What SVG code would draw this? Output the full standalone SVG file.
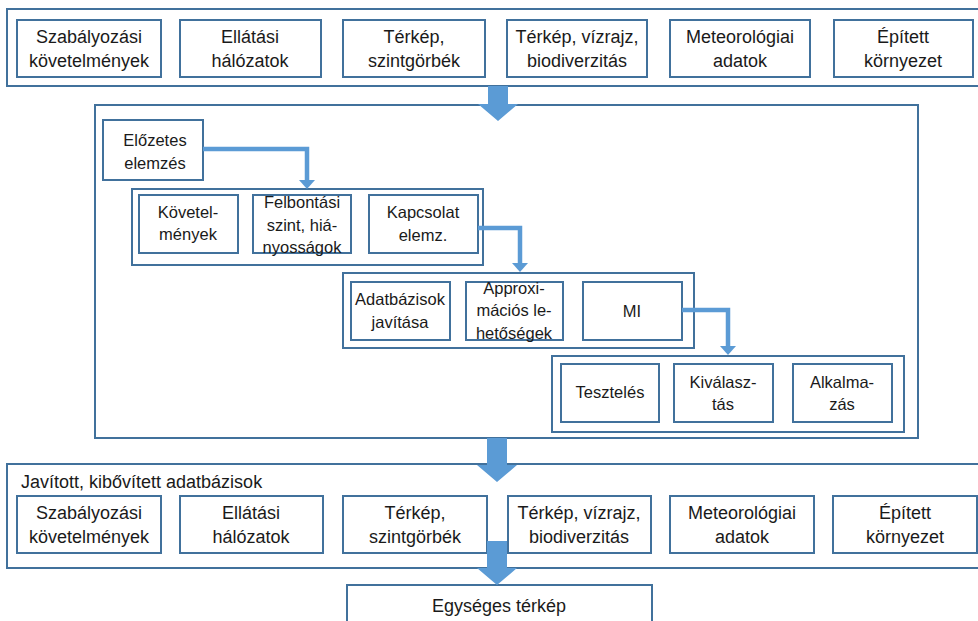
<svg xmlns="http://www.w3.org/2000/svg" width="978" height="621" viewBox="0 0 978 621">
<style>
.box{fill:#fff;stroke:#41719c;stroke-width:2}
.grp{fill:none;stroke:#41719c;stroke-width:2}
.t{font-family:"Liberation Sans",Arial,sans-serif;fill:#1a1a1a;text-anchor:middle}
.big{font-size:18px}
.sm{font-size:16.5px}
.conn{fill:none;stroke:#5b9bd5;stroke-width:4.5}
.head{fill:#5b9bd5}
.blk{fill:#5b9bd5}
</style>
<rect width="978" height="621" fill="#fff"/>

<!-- top data row -->
<g id="top-row">
<rect class="grp" x="7" y="9" width="975" height="77"/>
<g id="t1"><rect class="box" x="17" y="20" width="144" height="57"/><text class="t big" x="89" y="43">Szabályozási</text><text class="t big" x="89" y="67">követelmények</text></g>
<g id="t2"><rect class="box" x="180" y="20" width="141" height="57"/><text class="t big" x="250" y="43">Ellátási</text><text class="t big" x="250" y="67">hálózatok</text></g>
<g id="t3"><rect class="box" x="343" y="20" width="142" height="57"/><text class="t big" x="414" y="43">Térkép,</text><text class="t big" x="414" y="67">szintgörbék</text></g>
<g id="t4"><rect class="box" x="507" y="20" width="140" height="57"/><text class="t big" x="577" y="43">Térkép, vízrajz,</text><text class="t big" x="577" y="67">biodiverzitás</text></g>
<g id="t5"><rect class="box" x="670" y="20" width="140" height="57"/><text class="t big" x="740" y="43">Meteorológiai</text><text class="t big" x="740" y="67">adatok</text></g>
<g id="t6"><rect class="box" x="834" y="20" width="139" height="57"/><text class="t big" x="903" y="43">Épített</text><text class="t big" x="903" y="67">környezet</text></g>
</g>

<!-- middle process -->
<g id="process">
<rect class="grp" x="95" y="105" width="823" height="333"/>
<g id="elozetes"><rect class="box" x="103" y="120" width="100" height="60"/><text class="t sm" x="155" y="146">Előzetes</text><text class="t sm" x="155" y="169">elemzés</text></g>

<g id="group1">
<rect class="grp" x="132" y="189" width="351" height="76"/>
<g id="kovetelmenyek"><rect class="box" x="139" y="195" width="99" height="58"/><text class="t sm" x="188" y="218">Követel-</text><text class="t sm" x="188" y="240">mények</text></g>
<g id="felbontasi"><rect class="box" x="253" y="195" width="98" height="58"/><text class="t sm" x="302" y="208">Felbontási</text><text class="t sm" x="302" y="231">szint, hiá-</text><text class="t sm" x="302" y="253">nyosságok</text></g>
<g id="kapcsolat"><rect class="box" x="369" y="195" width="109" height="58"/><text class="t sm" x="423" y="218">Kapcsolat</text><text class="t sm" x="423" y="241">elemz.</text></g>
</g>

<g id="group2">
<rect class="grp" x="343" y="273" width="351" height="75"/>
<g id="adatbazisok"><rect class="box" x="351" y="282" width="99" height="58"/><text class="t sm" x="400" y="305">Adatbázisok</text><text class="t sm" x="400" y="328">javítása</text></g>
<g id="approxi"><rect class="box" x="466" y="282" width="97" height="58"/><text class="t sm" x="514" y="294">Approxi-</text><text class="t sm" x="514" y="316">mációs le-</text><text class="t sm" x="514" y="339">hetőségek</text></g>
<g id="mi"><rect class="box" x="583" y="282" width="99" height="58"/><text class="t sm" x="632" y="317">MI</text></g>
</g>

<g id="group3">
<rect class="grp" x="552" y="356" width="352" height="76"/>
<g id="teszteles"><rect class="box" x="561" y="364" width="98" height="58"/><text class="t sm" x="610" y="398">Tesztelés</text></g>
<g id="kivalasztas"><rect class="box" x="674" y="364" width="99" height="58"/><text class="t sm" x="723" y="388">Kiválasz-</text><text class="t sm" x="723" y="410">tás</text></g>
<g id="alkalmazas"><rect class="box" x="793" y="364" width="99" height="58"/><text class="t sm" x="842" y="388">Alkalma-</text><text class="t sm" x="842" y="410">zás</text></g>
</g>
</g>

<!-- bottom data row -->
<g id="bottom-row">
<rect class="grp" x="7" y="464" width="975" height="104"/>
<text class="t big" x="21" y="488" style="text-anchor:start">Javított, kibővített adatbázisok</text>
<g id="b1"><rect class="box" x="17" y="496" width="144" height="57"/><text class="t big" x="89" y="519">Szabályozási</text><text class="t big" x="89" y="543">követelmények</text></g>
<g id="b2"><rect class="box" x="180" y="496" width="143" height="57"/><text class="t big" x="251" y="519">Ellátási</text><text class="t big" x="251" y="543">hálózatok</text></g>
<g id="b3"><rect class="box" x="343" y="496" width="144" height="57"/><text class="t big" x="415" y="519">Térkép,</text><text class="t big" x="415" y="543">szintgörbék</text></g>
<g id="b4"><rect class="box" x="508" y="496" width="143" height="57"/><text class="t big" x="579" y="519">Térkép, vízrajz,</text><text class="t big" x="579" y="543">biodiverzitás</text></g>
<g id="b5"><rect class="box" x="670" y="496" width="144" height="57"/><text class="t big" x="742" y="519">Meteorológiai</text><text class="t big" x="742" y="543">adatok</text></g>
<g id="b6"><rect class="box" x="833" y="496" width="144" height="57"/><text class="t big" x="905" y="519">Épített</text><text class="t big" x="905" y="543">környezet</text></g>
</g>

<g id="egyseges"><rect class="box" x="347" y="585" width="305" height="45"/><text class="t big" x="499" y="612">Egységes térkép</text></g>

<!-- connectors -->
<g id="connectors">
<path class="conn" d="M203,149 H307 V181"/>
<polygon class="head" points="299,180 315,180 307,189"/>
<path class="conn" d="M478,228 H520 V264"/>
<polygon class="head" points="512,263 528,263 520,272"/>
<path class="conn" d="M682,310 H728 V347"/>
<polygon class="head" points="720,346 736,346 728,355"/>
<polygon class="blk" points="488,86 508,86 508,104 518,104 498,121 478,104 488,104"/>
<polygon class="blk" points="487,438 507,438 507,465 517,465 497,482 477,465 487,465"/>
<polygon class="blk" points="487,541 507,541 507,568 517,568 497,585 477,568 487,568"/>
</g>
</svg>
